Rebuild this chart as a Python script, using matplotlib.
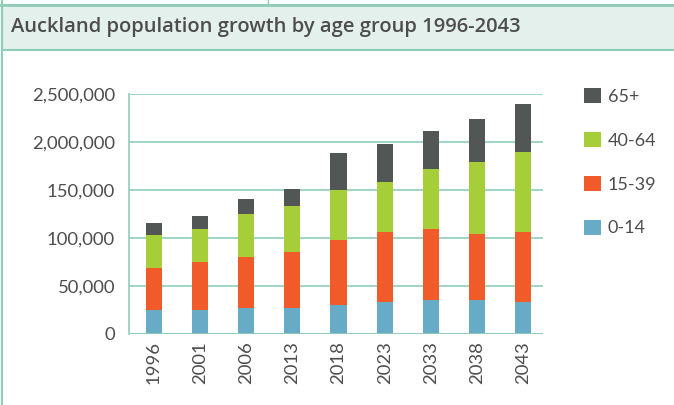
import matplotlib.pyplot as plt
from matplotlib.patches import Rectangle

years = ["1996", "2001", "2006", "2013", "2018", "2023", "2033", "2038", "2043"]
age_0_14 = [250000, 250000, 271000, 271000, 299000, 337000, 355000, 355000, 337000]
age_15_39 = [438000, 501000, 532000, 584000, 682000, 727000, 740000, 688000, 727000]
age_40_64 = [345000, 344000, 449000, 480000, 518000, 522000, 626000, 751000, 835000]
age_65_plus = [125000, 136000, 156000, 178000, 389000, 396000, 397000, 449000, 500000]

# labels as printed on the original chart
ytick_vals = [0, 500000, 1000000, 1500000, 2000000, 2500000]
ytick_labels = ["0", "50,000", "100,000", "150,000", "2,000,000", "2,500,000"]

series = [("0-14", age_0_14, "#67abc6"),
          ("15-39", age_15_39, "#f15a29"),
          ("40-64", age_40_64, "#a6ce39"),
          ("65+", age_65_plus, "#525654")]

grid_col = "#8fceb6"
text_col = "#4d4d4d"

fig = plt.figure(figsize=(6.74, 4.05), dpi=100)

# title band (runs off the right edge like the original)
fig.patches.append(Rectangle((0.0025, 1 - 50 / 405), 1.05, 45 / 405, transform=fig.transFigure,
                             facecolor="#e4f0ec", edgecolor=grid_col, linewidth=1.5))
fig.add_artist(plt.Line2D([0.0025, 0.0025], [0, 1], color=grid_col, linewidth=1.5))
fig.add_artist(plt.Line2D([0, 1], [1 - 5 / 405, 1 - 5 / 405], color=grid_col, linewidth=2))
fig.add_artist(plt.Line2D([268 / 674, 268 / 674], [1 - 5 / 405, 1], color=grid_col, linewidth=1))
fig.text(11 / 674, 1 - 27 / 405, "Auckland population growth by age group 1996-2043",
         fontsize=14.5, color=text_col, family="Open Sans", fontweight="semibold",
         va="center", ha="left")

ax = fig.add_axes([129 / 674, 1 - 334 / 405, (543 - 129) / 674, 240 / 405])
x = list(range(len(years)))
bottom = [0] * len(years)
handles = []
for name, vals, col in series:
    b = ax.bar(x, vals, width=0.35, bottom=bottom, color=col, label=name, zorder=3)
    handles.append(b)
    bottom = [a + v for a, v in zip(bottom, vals)]

ax.set_ylim(0, 2500000)
ax.set_xlim(-0.54, 8.43)
ax.set_yticks(ytick_vals)
ax.set_yticklabels(ytick_labels)
ax.set_xticks(x)
ax.set_xticklabels(years, rotation=90)
ax.grid(axis="y", color=grid_col, linewidth=1.2, zorder=0)
for s in ["top", "right", "bottom"]:
    ax.spines[s].set_visible(False)
ax.spines["left"].set_color(grid_col)
ax.spines["left"].set_linewidth(1.2)
ax.axhline(0, color=grid_col, linewidth=2, zorder=4)
ax.tick_params(length=0, labelsize=13.3, colors=text_col, pad=10)
ax.tick_params(axis="x", pad=5)
for lab in ax.get_xticklabels() + ax.get_yticklabels():
    lab.set_family("Lato")

leg = fig.legend(handles[::-1], [s[0] for s in series][::-1], loc="upper left",
                 bbox_to_anchor=(568 / 674, 1 - 72 / 405), frameon=False,
                 prop={"family": "Lato", "size": 13}, labelcolor=text_col,
                 handlelength=0.9, handleheight=0.9, labelspacing=1.5, handletextpad=0.4)

fig.savefig("out.png", dpi=100)
